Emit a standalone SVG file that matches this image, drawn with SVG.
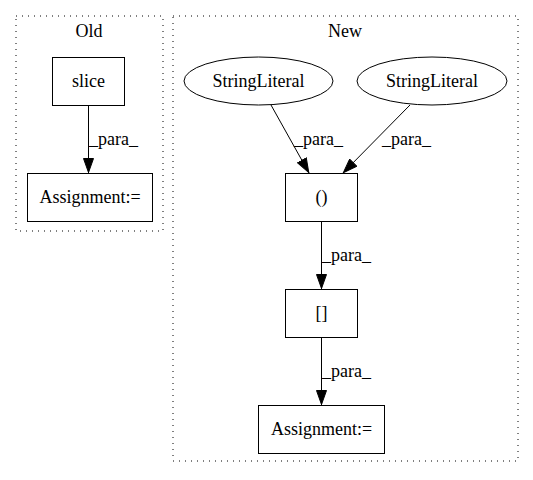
<svg xmlns="http://www.w3.org/2000/svg" width="533" height="480" viewBox="0 0 533 480">
<style>
text{font-family:"Liberation Serif","Times New Roman",serif;font-size:18px;fill:#000}
.c{text-anchor:middle}
.cl{fill:none;stroke:#000;stroke-width:1;stroke-dasharray:1,5}
.n{fill:#fff;stroke:#000;stroke-width:1}
.e{fill:none;stroke:#000;stroke-width:1}
</style>
<defs>
<marker id="ah" viewBox="0 0 15 11" refX="15" refY="5.5" markerWidth="15" markerHeight="11" markerUnits="userSpaceOnUse" orient="auto">
<path d="M0.5,0.5 L14.5,5.5 L0.5,10.5 Z" fill="#000" stroke="#000"/>
</marker>
</defs>
<rect width="533" height="480" fill="#fff"/>
<g id="cluster_old">
<rect class="cl" x="16" y="16" width="147" height="215"/>
<text class="c" x="89" y="37">Old</text>
</g>
<g id="cluster_new">
<rect class="cl" x="173" y="16" width="345" height="445"/>
<text class="c" x="345" y="37">New</text>
</g>
<g id="connectors">
<line class="e" x1="88.5" y1="105" x2="88.5" y2="173" marker-end="url(#ah)"/>
<text x="89" y="145">_para_</text>
<line class="e" x1="271" y1="105" x2="309" y2="173" marker-end="url(#ah)"/>
<text x="294" y="145">_para_</text>
<line class="e" x1="410" y1="105" x2="343" y2="173" marker-end="url(#ah)"/>
<text x="382" y="145">_para_</text>
<line class="e" x1="321.5" y1="221" x2="321.5" y2="289" marker-end="url(#ah)"/>
<text x="322" y="261">_para_</text>
<line class="e" x1="321.5" y1="337" x2="321.5" y2="405" marker-end="url(#ah)"/>
<text x="322" y="377">_para_</text>
</g>
<g id="slice">
<rect class="n" x="52.5" y="57.5" width="72" height="48"/>
<text class="c" x="88.5" y="87">slice</text>
</g>
<g id="assign_old">
<rect class="n" x="27.5" y="173.5" width="125" height="48"/>
<text class="c" x="90" y="203">Assignment:=</text>
</g>
<g id="sl1">
<ellipse class="n" cx="258.5" cy="81" rx="74.5" ry="24"/>
<text class="c" x="258.5" y="87">StringLiteral</text>
</g>
<g id="sl2">
<ellipse class="n" cx="432" cy="81" rx="75" ry="24"/>
<text class="c" x="432" y="87">StringLiteral</text>
</g>
<g id="paren">
<rect class="n" x="285.5" y="173.5" width="72" height="48"/>
<text class="c" x="321.5" y="203">()</text>
</g>
<g id="bracket">
<rect class="n" x="285.5" y="289.5" width="72" height="48"/>
<text class="c" x="321.5" y="319">[]</text>
</g>
<g id="assign_new">
<rect class="n" x="258.5" y="405.5" width="126" height="48"/>
<text class="c" x="321.5" y="435">Assignment:=</text>
</g>
</svg>
